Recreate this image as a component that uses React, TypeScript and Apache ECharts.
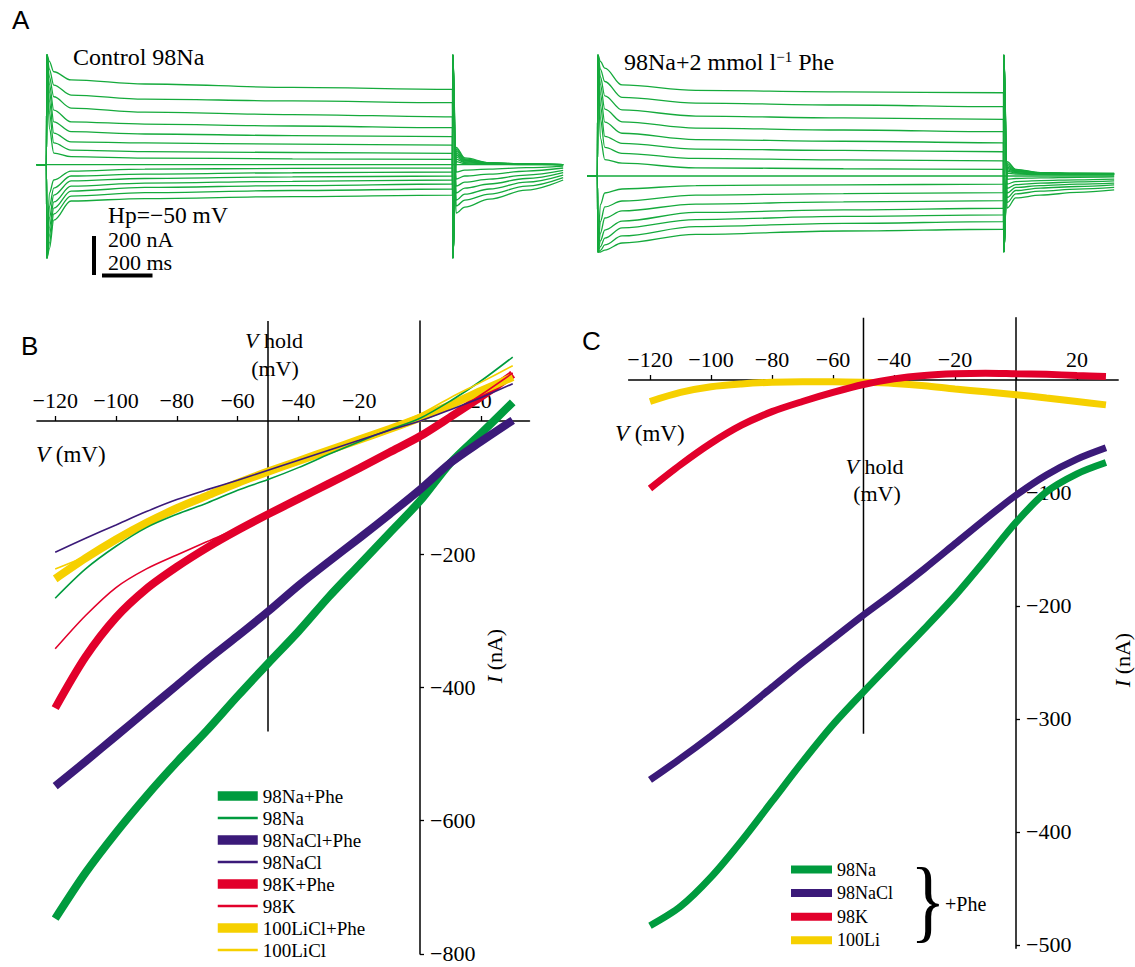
import React, { useEffect, useRef } from 'react';
import * as echarts from 'echarts';

const SERIF = '"Liberation Serif", "Times New Roman", serif';
const SANS = '"Liberation Sans", Arial, sans-serif';

const GREEN = '#009b3e';
const PURPLE = '#3b1a79';
const RED = '#e2002b';
const YELLOW = '#f6d000';
const TRACE = '#15aa3c';

// ---------- Panel A: current traces (nA vs ms) ----------
const T_PRE = -40;
const T_SPIKE = 2;
const T_STEP_END = 1650;
const T_ON = [12, 30, 100, 400, 1000, 1650];
const T_OFF = [1665, 1700, 1800, 1950, 2100];
const T_END = 2100;

const CTRL_SPIKE = [576, -490];
const CTRL_UP_ON = [
  [540, 486, 443, 422, 404, 394],
  [500, 416, 364, 343, 333, 324],
  [460, 355, 296, 275, 262, 250],
  [420, 285, 224, 212, 202, 193],
  [380, 224, 172, 160, 152, 146],
  [330, 165, 119, 113, 107, 102],
  [270, 113, 76, 68, 63, 59],
  [190, 60, 41, 34, 30, 27],
];
const CTRL_UP_OFF = [
  [90, 35, 10, 3, 0],
  [80, 30, 9, 3, 0],
  [70, 26, 8, 2, 0],
  [60, 22, 7, 2, 0],
  [50, 18, 6, 2, 0],
  [40, 14, 5, 1, 0],
  [28, 10, 3, 1, 0],
  [15, 5, 2, 0, 0],
];
const CTRL_DN_ON = [
  [-150, -81, -34, -24, -20, -18],
  [-220, -123, -60, -50, -43, -39],
  [-280, -160, -86, -73, -65, -60],
  [-330, -196, -113, -97, -88, -81],
  [-370, -228, -139, -120, -110, -102],
  [-410, -259, -165, -147, -136, -128],
  [-440, -291, -191, -178, -168, -160],
];
const CTRL_DN_OFF = [
  [-39, -29, -24, -16, -8],
  [-76, -60, -50, -34, -18],
  [-113, -92, -76, -55, -31],
  [-149, -123, -102, -73, -42],
  [-186, -155, -128, -92, -55],
  [-217, -186, -155, -113, -68],
  [-254, -223, -181, -134, -81],
];

const PHE_SPIKE = [634, -398];
const PHE_UP_ON = [
  [600, 565, 477, 448, 441, 436],
  [560, 495, 412, 382, 372, 363],
  [520, 420, 346, 314, 304, 297],
  [480, 350, 284, 251, 241, 232],
  [430, 282, 224, 191, 182, 174],
  [370, 208, 171, 141, 134, 127],
  [300, 150, 119, 92, 84, 79],
  [200, 86, 67, 43, 38, 35],
];
const PHE_UP_OFF = [
  [75, 35, 18, 15, 14],
  [65, 32, 17, 14, 13],
  [55, 28, 16, 13, 12],
  [47, 25, 15, 12, 11],
  [40, 22, 13, 11, 10],
  [32, 18, 12, 10, 9],
  [25, 15, 10, 9, 8],
  [15, 10, 7, 6, 6],
];
const PHE_DN_ON = [
  [-150, -89, -68, -50, -46, -43],
  [-240, -162, -131, -100, -92, -87],
  [-300, -220, -183, -147, -136, -129],
  [-340, -283, -236, -191, -177, -169],
  [-370, -325, -272, -228, -212, -204],
  [-390, -361, -314, -265, -248, -239],
  [-398, -388, -351, -306, -288, -279],
];
const PHE_DN_OFF = [
  [-18, -13, -10, -7, -5],
  [-42, -29, -24, -20, -16],
  [-65, -45, -37, -31, -26],
  [-89, -60, -50, -43, -37],
  [-113, -76, -63, -55, -47],
  [-139, -94, -79, -69, -60],
  [-168, -115, -100, -86, -73],
];

// ---------- Panel B: I-V curves ----------
const V_B = [-120, -110, -100, -90, -80, -70, -60, -50, -40, -30, -20, -10, 0, 10, 20, 30.5];
const B_NA_PHE = [-747, -678, -618, -563, -512, -464, -413, -364, -316, -264, -216, -168, -120, -63, -19, 28];
const B_NA = [-266, -222, -188, -160, -140, -123, -104, -88, -70, -50, -31, -13, 4, 30, 60, 96];
const B_NACL_PHE = [-548, -511, -473, -435, -397, -359, -323, -286, -247, -211, -176, -140, -103, -63, -31, 1];
const B_NACL = [-197, -176, -156, -136, -118, -103, -89, -74, -59, -44, -29, -14, 0, 17, 35, 56];
const B_K_PHE = [-431, -354, -295, -252, -219, -190, -164, -140, -117, -94, -71, -47, -23, 6, 36, 70];
const B_K = [-342, -292, -250, -222, -201, -181, -161, -137, -114, -91, -68, -44, -20, 9, 39, 72];
const B_LI_PHE = [-237, -206, -178, -153, -131, -112, -93, -76, -60, -44, -28, -12, 5, 24, 45, 66];
const B_LI = [-222, -203, -176, -152, -132, -113, -95, -77, -60, -43, -26, -9, 10, 35, 58, 83];
const B_X_TICKS = [-120, -100, -80, -60, -40, -20, 0, 20];
const B_X_LABELS = [-120, -100, -80, -60, -40, -20, 20];
const B_Y_TICKS = [-200, -400, -600, -800];
const B_VHOLD = [[-50, 150], [-50, -466]];

// ---------- Panel C: I-V curves (+Phe) ----------
const V_C = [-120, -110, -100, -90, -80, -70, -60, -50, -40, -30, -20, -10, 0, 10, 20, 29.5];
const C_NA = [-483, -466, -440, -408, -373, -338, -305, -276, -248, -220, -191, -159, -126, -99, -83, -73];
const C_NACL = [-354, -335, -315, -294, -272, -250, -229, -208, -188, -167, -145, -123, -102, -84, -70, -60];
const C_K = [-96, -75, -56, -40, -28, -19, -11, -4, 1, 4, 5.5, 6, 5.5, 5, 4, 3];
const C_LI = [-19, -11, -6, -3.5, -2, -1.5, -1.5, -2, -3, -5, -8, -10.5, -13, -16, -19, -22];
const C_X_TICKS = [-120, -100, -80, -60, -40, -20, 0, 20];
const C_X_LABELS = [-120, -100, -80, -60, -40, -20, 20];
const C_Y_TICKS = [-100, -200, -300, -400, -500];
const C_VHOLD = [[-50, 55], [-50, -313]];

const fmt = (v: number) => (v < 0 ? '\u2212' + Math.abs(v) : String(v));
const zip = (xs: number[], ys: number[]) => xs.map((x, i) => [x, ys[i]]);

function makeTrace(on: number[], off: number[], up: boolean, spike: number[]) {
  const [top, bottom] = spike;
  const pts: number[][] = [[T_PRE, 0], [0, 0], [T_SPIKE, up ? top : bottom]];
  T_ON.forEach((t, i) => pts.push([t, on[i]]));
  pts.push([T_STEP_END + T_SPIKE, up ? bottom : top]);
  T_OFF.forEach((t, i) => pts.push([t, off[i]]));
  return pts;
}

function traceSeries(idx: number, prefix: string, upOn: number[][], upOff: number[][], dnOn: number[][], dnOff: number[][], spike: number[]) {
  const out: any[] = [];
  const base = (name: string, data: number[][]) => ({
    name,
    type: 'line',
    xAxisIndex: idx,
    yAxisIndex: idx,
    data,
    symbol: 'none',
    smooth: 0.35,
    smoothMonotone: 'x',
    silent: true,
    lineStyle: { color: TRACE, width: 1.3 },
  });
  upOn.forEach((on, i) => out.push(base(`${prefix}-up${i}`, makeTrace(on, upOff[i], true, spike))));
  dnOn.forEach((on, i) => out.push(base(`${prefix}-dn${i}`, makeTrace(on, dnOff[i], false, spike))));
  out.push(base(`${prefix}-hold`, [[T_PRE, 0], [T_END, 0]]));
  return out;
}

function ivSeries(name: string, idx: number, xs: number[], ys: number[], color: string, width: number) {
  return {
    name,
    type: 'line',
    xAxisIndex: idx,
    yAxisIndex: idx,
    data: zip(xs, ys),
    symbol: 'none',
    smooth: 0.3,
    lineStyle: { color, width, cap: 'butt' },
    itemStyle: { color },
    silent: true,
  };
}

function vholdSeries(name: string, idx: number, data: number[][]) {
  return {
    name,
    type: 'line',
    xAxisIndex: idx,
    yAxisIndex: idx,
    data,
    symbol: 'none',
    silent: true,
    lineStyle: { color: '#000', width: 1.5 },
  };
}

const axisText = { fontFamily: SERIF, fontSize: 22, color: '#000', lineHeight: 18 };

const hiddenAxis = (grid: number, min: number, max: number) => ({ gridIndex: grid, type: 'value', min, max, show: false });

function ivXAxis(grid: number, min: number, max: number, ticks: number[], labels: number[]) {
  return {
    gridIndex: grid,
    type: 'value',
    min,
    max,
    position: 'top',
    axisLine: { onZero: false, lineStyle: { color: '#000', width: 1.6 } },
    axisTick: { show: true, customValues: ticks, length: 5, lineStyle: { color: '#000', width: 1.3 } },
    axisLabel: { ...axisText, customValues: labels, formatter: fmt, margin: 12 },
    splitLine: { show: false },
  };
}

function ivYAxis(grid: number, min: number, max: number, ticks: number[]) {
  return {
    gridIndex: grid,
    type: 'value',
    min,
    max,
    position: 'right',
    axisLine: { onZero: false, lineStyle: { color: '#000', width: 1.5 } },
    axisTick: { show: true, customValues: ticks, length: 4, lineStyle: { color: '#000', width: 1.3 } },
    axisLabel: { ...axisText, customValues: ticks, formatter: fmt, margin: 10 },
    splitLine: { show: false },
  };
}

function txt(text: string, x: number, y: number, opts: any = {}) {
  const { fontSize = 22, fontFamily = SERIF, align = 'left', rotation = 0, scaleX = 1, rich, lineHeight } = opts;
  return {
    type: 'text',
    x,
    y,
    rotation,
    scaleX,
    silent: true,
    style: {
      text,
      fill: '#000',
      fontSize,
      fontFamily,
      textAlign: align,
      textVerticalAlign: 'middle',
      lineHeight,
      rich,
    },
  };
}

const italicRich = (size: number) => ({
  i: { fontStyle: 'italic', fontSize: size, fontFamily: SERIF, fill: '#000' },
  n: { fontSize: size, fontFamily: SERIF, fill: '#000' },
});

const G = (left: number, top: number, width: number, height: number) => ({
  left, top, width, height, containLabel: false, outerBoundsMode: 'none',
});

// B panel vertical layout: I = 0 at y = 421, 150 nA at the top, -800 nA at the bottom
const B_TOP = 321.06;
const B_H = 632.9;
const B_ZERO_Y = 421;

function buildOption() {
  const series: any[] = [
    ...traceSeries(0, 'ctrl', CTRL_UP_ON, CTRL_UP_OFF, CTRL_DN_ON, CTRL_DN_OFF, CTRL_SPIKE),
    ...traceSeries(1, 'phe', PHE_UP_ON, PHE_UP_OFF, PHE_DN_ON, PHE_DN_OFF, PHE_SPIKE),
    vholdSeries('B Vhold', 2, B_VHOLD),
    ivSeries('98Na+Phe', 2, V_B, B_NA_PHE, GREEN, 8),
    ivSeries('98NaCl+Phe', 2, V_B, B_NACL_PHE, PURPLE, 8),
    ivSeries('98K+Phe', 2, V_B, B_K_PHE, RED, 8),
    ivSeries('100LiCl+Phe', 2, V_B, B_LI_PHE, YELLOW, 8),
    ivSeries('98K', 2, V_B, B_K, RED, 1.6),
    ivSeries('98Na', 2, V_B, B_NA, GREEN, 1.6),
    ivSeries('100LiCl', 2, V_B, B_LI, YELLOW, 1.6),
    ivSeries('98NaCl', 2, V_B, B_NACL, PURPLE, 1.6),
    vholdSeries('C Vhold', 3, C_VHOLD),
    ivSeries('C 98Na', 3, V_C, C_NA, GREEN, 7),
    ivSeries('C 98NaCl', 3, V_C, C_NACL, PURPLE, 7),
    ivSeries('C 100Li', 3, V_C, C_LI, YELLOW, 7),
    ivSeries('C 98K', 3, V_C, C_K, RED, 7),
  ];

  const bLegend = [
    ['98Na+Phe', 9.5], ['98Na', 2.5], ['98NaCl+Phe', 9.5], ['98NaCl', 2.5],
    ['98K+Phe', 9.5], ['98K', 2.5], ['100LiCl+Phe', 9.5], ['100LiCl', 2.5],
  ].map(([name, w]) => ({ name, lineStyle: { width: w }, itemStyle: { opacity: 0 } }));
  const cLegend = ['C 98Na', 'C 98NaCl', 'C 98K', 'C 100Li'].map((name) => ({ name, lineStyle: { width: 8 }, itemStyle: { opacity: 0 } }));

  return {
    animation: false,
    backgroundColor: '#fff',
    textStyle: { fontFamily: SERIF },
    grid: [
      G(36.56, 50, 526.6, 210),
      G(587.56, 50, 526.6, 210),
      G(36.96, B_TOP, 492.48, B_H),
      G(628.65, 317.85, 489.5, 630.5),
      G(36.96, B_ZERO_Y, 492.48, B_TOP + B_H - B_ZERO_Y),
      G(36.96, B_TOP, 383.04, B_H),
      G(628.65, 380, 489.5, 568.4),
      G(628.65, 317.85, 387.35, 630.5),
    ],
    xAxis: [
      hiddenAxis(0, T_PRE, T_END),
      hiddenAxis(1, T_PRE, T_END),
      hiddenAxis(2, -126, 36),
      hiddenAxis(3, -127, 33.5),
      ivXAxis(4, -126, 36, B_X_TICKS, B_X_LABELS),
      hiddenAxis(5, 0, 1),
      ivXAxis(6, -127, 33.5, C_X_TICKS, C_X_LABELS),
      hiddenAxis(7, 0, 1),
    ],
    yAxis: [
      hiddenAxis(0, -500, 600),
      hiddenAxis(1, -440, 660),
      hiddenAxis(2, -800, 150),
      hiddenAxis(3, -503, 55),
      hiddenAxis(4, 0, 1),
      ivYAxis(5, -800, 150, B_Y_TICKS),
      hiddenAxis(6, 0, 1),
      ivYAxis(7, -503, 55, C_Y_TICKS),
    ],
    legend: [
      {
        data: bLegend,
        orient: 'vertical',
        left: 213,
        top: 786.5,
        padding: 0,
        itemWidth: 40,
        itemHeight: 12,
        itemGap: 3.0,
        selectedMode: false,
        itemStyle: { opacity: 0 },
        textStyle: { fontFamily: SERIF, fontSize: 19, color: '#000' },
      },
      {
        data: cLegend,
        orient: 'vertical',
        left: 787,
        top: 860.5,
        padding: 0,
        itemWidth: 41,
        itemHeight: 12,
        itemGap: 5.6,
        selectedMode: false,
        itemStyle: { opacity: 0 },
        formatter: (name: string) => name.replace(/^C /, ''),
        textStyle: { fontFamily: SERIF, fontSize: 18, color: '#000', lineHeight: 17 },
      },
    ],
    graphic: [
      txt('A', 12, 20, { fontFamily: SANS, fontSize: 26 }),
      txt('B', 21, 346, { fontFamily: SANS, fontSize: 26 }),
      txt('C', 582, 341, { fontFamily: SANS, fontSize: 26 }),
      txt('Control 98Na', 73, 57, { fontSize: 24 }),
      txt('{n|98Na+2 mmol l}{s|\u22121}{n| Phe}', 624, 62, {
        rich: {
          n: { fontSize: 24, fontFamily: SERIF, fill: '#000' },
          s: { fontSize: 15, fontFamily: SERIF, fill: '#000', verticalAlign: 'top', padding: [0, 0, 10, 0] },
        },
      }),
      txt('Hp=\u221250 mV', 108, 215, { fontSize: 23.5, lineHeight: 20 }),
      txt('200 nA', 108, 239.5, { fontSize: 22, lineHeight: 20 }),
      txt('200 ms', 108, 262, { fontSize: 22, lineHeight: 20 }),
      { type: 'line', silent: true, shape: { x1: 94, y1: 236, x2: 94, y2: 275 }, style: { stroke: '#000', lineWidth: 4 } },
      { type: 'line', silent: true, shape: { x1: 102, y1: 275.5, x2: 152.5, y2: 275.5 }, style: { stroke: '#000', lineWidth: 4 } },
      txt('{i|V}{n| hold}', 274, 340.5, { align: 'center', rich: italicRich(22) }),
      txt('(mV)', 275, 368, { align: 'center' }),
      txt('{i|V}{n| (mV)}', 36, 454, { rich: italicRich(23) }),
      txt('{i|I}{n| (nA)}', 494, 656, { align: 'center', rotation: Math.PI / 2, rich: italicRich(22) }),
      txt('{i|V}{n| (mV)}', 615, 433, { rich: italicRich(23) }),
      txt('{i|V}{n| hold}', 874.5, 466, { align: 'center', rich: italicRich(22) }),
      txt('(mV)', 877, 493, { align: 'center' }),
      txt('{i|I}{n| (nA)}', 1122, 660, { align: 'center', rotation: Math.PI / 2, rich: italicRich(22) }),
      txt('}', 928, 900, { align: 'center', fontSize: 92, scaleX: 0.8 }),
      txt('+Phe', 945, 904, { fontSize: 20 }),
    ],
    series,
  };
}

export default function App() {
  const ref = useRef<HTMLDivElement>(null);
  useEffect(() => {
    document.body.style.margin = '0';
    const chart = echarts.init(ref.current as HTMLDivElement, null, { renderer: 'svg' });
    chart.setOption(buildOption() as any);
    return () => chart.dispose();
  }, []);
  return <div ref={ref} style={{ width: 1135, height: 967 }} />;
}
